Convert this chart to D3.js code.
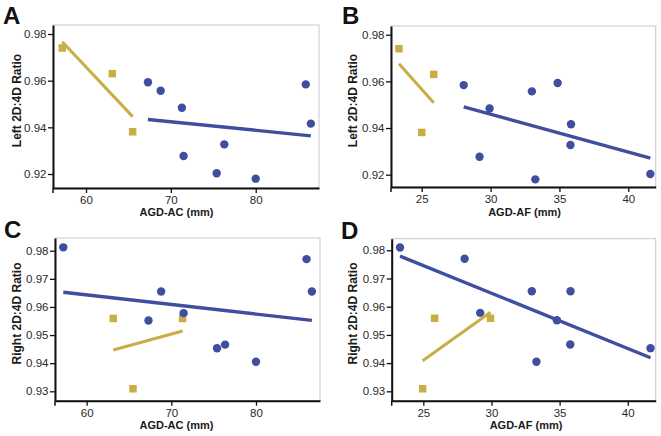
<!DOCTYPE html>
<html>
<head>
<meta charset="utf-8">
<script src="https://cdn.jsdelivr.net/npm/d3@7"></script>
<style>
  html, body { margin: 0; padding: 0; background: #fff; }
  svg { display: block; font-family: "Liberation Sans", Arial, sans-serif; }
</style>
</head>
<body>
<svg id="chart" width="661" height="436"></svg>
<script>
// ---------------- DATA ----------------
// Panel A: Left 2D:4D vs AGD-AC
const aBlueX = [67.3, 68.8, 71.3, 71.5, 76.3, 75.4, 80.0, 85.9, 86.5];
const aBlueY = [0.9593, 0.9557, 0.9484, 0.9277, 0.9327, 0.9203, 0.9180, 0.9584, 0.9416];
const aGoldX = [57.2, 63.1, 65.5];
const aGoldY = [0.9740, 0.9630, 0.9381];
// Panel B: Left 2D:4D vs AGD-AF
const bBlueX = [28.05, 29.93, 29.2, 33.0, 34.87, 35.84, 35.8, 33.25, 41.6];
const bBlueY = [0.9584, 0.9484, 0.9277, 0.9557, 0.9593, 0.9416, 0.9327, 0.9180, 0.9203];
const bGoldX = [23.35, 25.87, 25.0];
const bGoldY = [0.9740, 0.9630, 0.9381];
// Panel C: Right 2D:4D vs AGD-AC
const cBlueX = [57.24, 67.3, 68.8, 71.45, 75.4, 76.35, 80.0, 85.97, 86.6];
const cBlueY = [0.9812, 0.9552, 0.9655, 0.9578, 0.9453, 0.9466, 0.9405, 0.9770, 0.9655];
const cGoldX = [63.14, 71.33, 65.47];
const cGoldY = [0.9559, 0.9559, 0.9309];
// Panel D: Right 2D:4D vs AGD-AF
const dBlueX = [23.29, 28.03, 29.17, 32.96, 35.8, 34.8, 35.78, 33.3, 41.67];
const dBlueY = [0.9810, 0.9770, 0.9578, 0.9655, 0.9655, 0.9552, 0.9466, 0.9405, 0.9453];
const dGoldX = [25.83, 29.93, 24.95];
const dGoldY = [0.9559, 0.9559, 0.9309];

// Tick labels
const ticksAC = [60, 70, 80];
const ticksAF = [25, 30, 35, 40];
const ticksLeft = [0.92, 0.94, 0.96, 0.98];
const ticksRight = [0.93, 0.94, 0.95, 0.96, 0.97, 0.98];

const panelLetters = ["A", "B", "C", "D"];
const xTitles = ["AGD-AC (mm)", "AGD-AF (mm)", "AGD-AC (mm)", "AGD-AF (mm)"];
const yTitles = ["Left 2D:4D Ratio", "Left 2D:4D Ratio", "Right 2D:4D Ratio", "Right 2D:4D Ratio"];

// ---------------- LAYOUT ----------------
const BLUE = "#3f4e9e";
const GOLD = "#c9ae46";

const panels = [
  { letter: panelLetters[0], xt: xTitles[0], yt: yTitles[0], blue: [aBlueX, aBlueY], gold: [aGoldX, aGoldY],
    xTicks: ticksAC, yTicks: ticksLeft, yFmt: ".2f",
    box: { l: 53, t: 25, r: 319, b: 188 }, xDom: [56.11, 87.46], yDom: [0.914, 0.98386],
    letterPos: [3, 23.5], yTitlePos: [20.5, 100.5], xTitlePos: [176.5, 216] },
  { letter: panelLetters[1], xt: xTitles[1], yt: yTitles[1], blue: [bBlueX, bBlueY], gold: [bGoldX, bGoldY],
    xTicks: ticksAF, yTicks: ticksLeft, yFmt: ".2f",
    box: { l: 391, t: 26, r: 655.7, b: 187 }, xDom: [22.77, 41.99], yDom: [0.91473, 0.98373],
    letterPos: [342, 23.5], yTitlePos: [357, 100.5], xTitlePos: [524.5, 216] },
  { letter: panelLetters[2], xt: xTitles[2], yt: yTitles[2], blue: [cBlueX, cBlueY], gold: [cGoldX, cGoldY],
    xTicks: ticksAC, yTicks: ticksRight, yFmt: ".2f",
    box: { l: 55, t: 238, r: 320, b: 400.7 }, xDom: [56.26, 87.56], yDom: [0.92666, 0.98452],
    letterPos: [4, 238], yTitlePos: [21, 313.5], xTitlePos: [176.5, 428.5] },
  { letter: panelLetters[3], xt: xTitles[3], yt: yTitles[3], blue: [dBlueX, dBlueY], gold: [dGoldX, dGoldY],
    xTicks: ticksAF, yTicks: ticksRight, yFmt: ".2f",
    box: { l: 391.7, t: 238.7, r: 655.7, b: 400.7 }, xDom: [22.68, 42.05], yDom: [0.92667, 0.98411],
    letterPos: [341, 238.5], yTitlePos: [357, 313.5], xTitlePos: [526, 428.5] }
];

function fit(xs, ys) {
  const mx = d3.mean(xs), my = d3.mean(ys);
  let sxy = 0, sxx = 0;
  xs.forEach((x, i) => { sxy += (x - mx) * (ys[i] - my); sxx += (x - mx) * (x - mx); });
  const slope = sxy / sxx, icpt = my - slope * mx;
  const [x0, x1] = d3.extent(xs);
  return [[x0, icpt + slope * x0], [x1, icpt + slope * x1]];
}

const svg = d3.select("#chart");

panels.forEach(p => {
  const g = svg.append("g");
  const x = d3.scaleLinear().domain(p.xDom).range([p.box.l, p.box.r]);
  const y = d3.scaleLinear().domain(p.yDom).range([p.box.b, p.box.t]);

  // light frame
  g.append("rect")
    .attr("x", p.box.l).attr("y", p.box.t)
    .attr("width", p.box.r - p.box.l).attr("height", p.box.b - p.box.t)
    .attr("fill", "none").attr("stroke", "#c9c7d4").attr("stroke-width", 1);

  // axes
  const ya = g.append("g").attr("transform", `translate(${p.box.l},0)`)
    .call(d3.axisLeft(y).tickValues(p.yTicks).tickFormat(d3.format(p.yFmt)).tickSize(5).tickSizeOuter(0).tickPadding(1.5));
  const xa = g.append("g").attr("transform", `translate(0,${p.box.b})`)
    .call(d3.axisBottom(x).tickValues(p.xTicks).tickFormat(d3.format("d")).tickSize(5).tickSizeOuter(0).tickPadding(3));
  [ya, xa].forEach(a => {
    a.select(".domain").attr("stroke", "#111").attr("stroke-width", 2);
    a.selectAll(".tick line").attr("stroke", "#111").attr("stroke-width", 1.3);
    a.selectAll(".tick text").attr("fill", "#2a2a2a").style("font-size", "11.5px")
      .style("font-family", "'Liberation Sans', Arial, sans-serif");
  });
  // left-end tick on x axis (corner mark)
  xa.append("line").attr("x1", p.box.l).attr("x2", p.box.l).attr("y1", 0).attr("y2", 5)
    .attr("stroke", "#111").attr("stroke-width", 1.5);

  // titles
  g.append("text").attr("x", p.letterPos[0]).attr("y", p.letterPos[1])
    .attr("font-size", 24).attr("font-weight", "bold").attr("fill", "#111").text(p.letter);
  g.append("text")
    .attr("transform", `translate(${p.yTitlePos[0]},${p.yTitlePos[1]}) rotate(-90)`)
    .attr("text-anchor", "middle").attr("font-size", 12).attr("font-weight", "bold").attr("fill", "#1a1a1a")
    .text(p.yt);
  g.append("text").attr("x", p.xTitlePos[0]).attr("y", p.xTitlePos[1])
    .attr("text-anchor", "middle").attr("font-size", 11).attr("font-weight", "bold").attr("fill", "#1a1a1a")
    .text(p.xt);

  // points
  const blue = p.blue[0].map((v, i) => [v, p.blue[1][i]]);
  const gold = p.gold[0].map((v, i) => [v, p.gold[1][i]]);
  const sq = 7.5;
  g.selectAll(".sq").data(gold).join("rect")
    .attr("x", d => x(d[0]) - sq / 2).attr("y", d => y(d[1]) - sq / 2)
    .attr("width", sq).attr("height", sq).attr("fill", GOLD);
  g.selectAll(".ci").data(blue).join("circle")
    .attr("cx", d => x(d[0])).attr("cy", d => y(d[1])).attr("r", 4.2).attr("fill", BLUE);

  // regression lines
  const line = d3.line().x(d => x(d[0])).y(d => y(d[1]));
  g.append("path").attr("d", line(fit(p.gold[0], p.gold[1])))
    .attr("stroke", GOLD).attr("stroke-width", 3).attr("fill", "none");
  g.append("path").attr("d", line(fit(p.blue[0], p.blue[1])))
    .attr("stroke", BLUE).attr("stroke-width", 3.4).attr("fill", "none");
});
</script>
</body>
</html>
